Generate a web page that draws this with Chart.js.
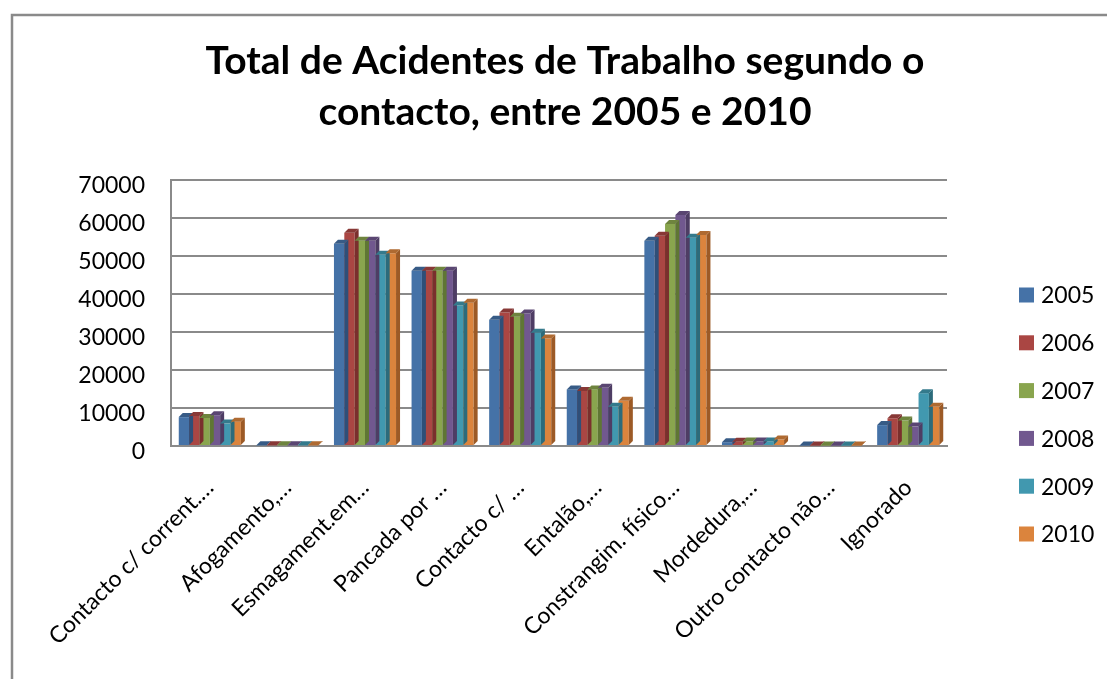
<!DOCTYPE html>
<html>
<head>
<meta charset="utf-8">
<script src="https://cdn.jsdelivr.net/npm/chart.js@4.4.1/dist/chart.umd.min.js"></script>
<style>
  html, body { margin: 0; padding: 0; background: #ffffff; }
  #wrap { width: 1107px; height: 679px; position: relative; }
</style>
</head>
<body>
<div id="wrap"><canvas id="c" width="1107" height="679"></canvas></div>
<script>
const titleLines = ["Total de Acidentes de Trabalho segundo o", "contacto, entre 2005 e 2010"];
const categories = [
  "Contacto c/ corrent.…", "Afogamento,…", "Esmagament.em…", "Pancada por …",
  "Contacto c/ …", "Entalão,…", "Constrangim. físico…", "Mordedura,…",
  "Outro contacto não…", "Ignorado"
];
const years = ["2005", "2006", "2007", "2008", "2009", "2010"];
const v2005 = [7600, 180, 53200, 46100, 33200, 14900, 54000, 1000, 150, 5500];
const v2006 = [7900, 180, 56100, 46100, 35100, 14500, 55300, 1150, 150, 7300];
const v2007 = [7400, 180, 54000, 46100, 34000, 14900, 58400, 1200, 150, 6700];
const v2008 = [8100, 180, 54000, 46100, 34900, 15300, 60800, 1200, 150, 5100];
const v2009 = [5900, 180, 50300, 37000, 29800, 10300, 54800, 1200, 150, 13900];
const v2010 = [6400, 180, 50700, 37700, 28300, 11900, 55500, 1700, 150, 10300];
const yTicks = [0, 10000, 20000, 30000, 40000, 50000, 60000, 70000];
const colors = ["#4572A7", "#AA4643", "#89A54E", "#71588F", "#4198AF", "#DB843D"];
const sideColors = ["#2f4f78", "#7a2f2d", "#5f7634", "#4e3d64", "#2c6b7b", "#9c5a26"];

const seriesValues = [v2005, v2006, v2007, v2008, v2009, v2010];

function shade(hex, f) {
  const n = parseInt(hex.slice(1), 16);
  let r = (n >> 16) & 255, g = (n >> 8) & 255, b = n & 255;
  r = Math.round(r * f); g = Math.round(g * f); b = Math.round(b * f);
  return "rgb(" + r + "," + g + "," + b + ")";
}

const bar3d = {
  id: "bar3d",
  afterDatasetsDraw(chart) {
    const ctx = chart.ctx;
    const d = 4;
    chart.data.datasets.forEach((ds, i) => {
      const meta = chart.getDatasetMeta(i);
      meta.data.forEach(el => {
        const w = el.width, x = el.x, y = el.y, base = el.base;
        const l = x - w / 2, r = x + w / 2;
        ctx.save();
        ctx.fillStyle = sideColors[i];
        ctx.beginPath();
        ctx.moveTo(r, y); ctx.lineTo(r + d, y - d); ctx.lineTo(r + d, base - d); ctx.lineTo(r, base);
        ctx.closePath(); ctx.fill();
        ctx.fillStyle = shade(colors[i], 0.8);
        ctx.beginPath();
        ctx.moveTo(l, y); ctx.lineTo(l + d, y - d); ctx.lineTo(r + d, y - d); ctx.lineTo(r, y);
        ctx.closePath(); ctx.fill();
        ctx.restore();
      });
    });
  }
};

const decor = {
  id: "decor",
  afterDraw(chart) {
    const ctx = chart.ctx;
    ctx.save();
    // outer border
    ctx.strokeStyle = "#8a8a8a";
    ctx.lineWidth = 2.5;
    ctx.strokeRect(12, 15, 1200, 800);
    // title
    ctx.fillStyle = "#000";
    ctx.font = "bold 39px Lato";
    ctx.textAlign = "center";
    ctx.textBaseline = "alphabetic";
    ctx.fillText(titleLines[0], 565, 74);
    ctx.fillText(titleLines[1], 565, 125);
    // legend
    ctx.font = "23px Lato";
    ctx.textAlign = "left";
    ctx.textBaseline = "middle";
    chart.data.datasets.forEach((ds, i) => {
      const cy = 295 + i * 47.8;
      ctx.fillStyle = ds.backgroundColor;
      ctx.fillRect(1019, cy - 7.5, 15, 15);
      ctx.fillStyle = "#000";
      ctx.fillText(ds.label, 1041, cy + 1);
    });
    ctx.restore();
  }
};

new Chart(document.getElementById("c"), {
  type: "bar",
  data: {
    labels: categories,
    datasets: years.map((y, i) => ({
      label: y,
      data: seriesValues[i],
      backgroundColor: colors[i],
      borderWidth: 0,
      barPercentage: 1.0,
      categoryPercentage: 0.8
    }))
  },
  options: {
    responsive: false,
    animation: false,
    devicePixelRatio: 1,
    layout: { padding: { top: 180, right: 160, bottom: 0, left: 0 } },
    plugins: {
      legend: { display: false },
      title: { display: false },
      tooltip: { enabled: false }
    },
    scales: {
      x: {
        grid: { display: false, drawTicks: false },
        border: { display: true, color: "#8a8a8a", width: 2 },
        ticks: {
          color: "#000",
          font: { family: "Lato", size: 23 },
          minRotation: 45, maxRotation: 45,
          padding: 28,
          autoSkip: false
        },
        afterFit(scale) { scale.height = 679 - 446; }
      },
      y: {
        min: 0, max: 70000,
        afterBuildTicks(scale) { scale.ticks = yTicks.map(v => ({ value: v })); },
        grid: { color: "#8a8a8a", lineWidth: 2, drawTicks: false },
        border: { display: true, color: "#8a8a8a", width: 2 },
        ticks: {
          color: "#000",
          font: { family: "Lato", size: 23 },
          padding: 26,
          labelOffset: 6,
          callback: (v) => String(v)
        },
        afterFit(scale) { scale.width = 171; }
      }
    }
  },
  plugins: [bar3d, decor]
});
</script>
</body>
</html>
